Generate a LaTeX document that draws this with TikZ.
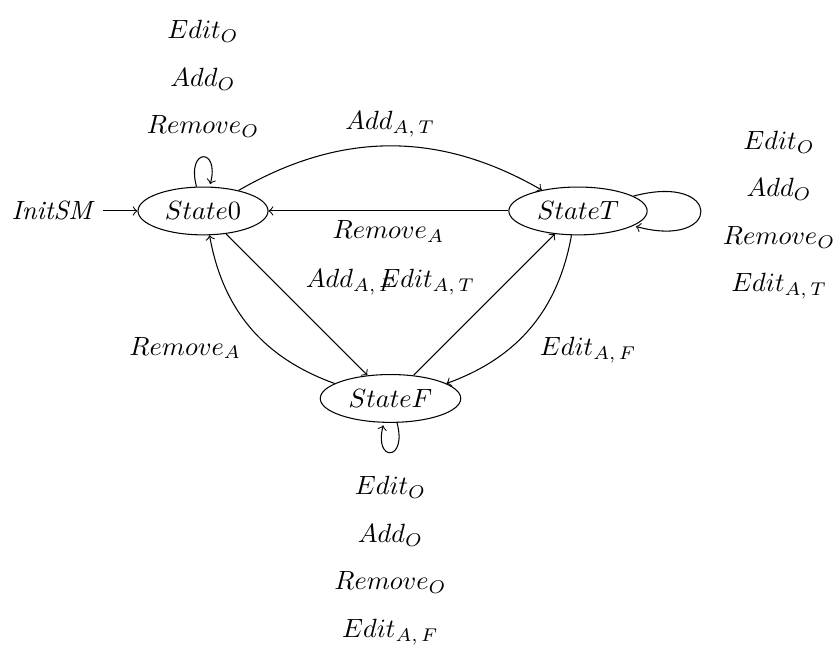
\documentclass[tikz,border=0pt]{standalone}
\usetikzlibrary{positioning,shapes.geometric}
\renewcommand{\arraystretch}{1.5}
\begin{document}
\begin{tikzpicture}[
  statenode/.style={ellipse, draw, inner sep=3pt},
  every edge/.append style={->},
]
\useasboundingbox (-2.707,-6.04) rectangle (8.467,2.813);

% states
\node[statenode] (s0) at (0,0)      {$State0$};
\node[statenode] (sT) at (5,0)      {$StateT$};
\node[statenode] (sF) at (2.5,-2.5) {$StateF$};

% initial arrow
\node[left=13pt of s0, inner sep=3pt] (init) {\textit{InitSM}};
\draw[->] (init) -- (s0);

% transitions
\path[auto]
  (s0) edge[bend left] node {$Add_{A,\,T}$} (sT)
       edge node {$Add_{A,\,F}$} (sF)
       edge[loop above] node[above]
         {$\begin{array}{c} Edit_O\\ Add_O\\ Remove_O \end{array}$} ()
  (sT) edge node {$Remove_A$} (s0)
       edge[bend left] node {$Edit_{A,\,F}$} (sF)
       edge[loop right] node[right]
         {$\begin{array}{c} Edit_O\\ Add_O\\ Remove_O\\ Edit_{A,\,T} \end{array}$} ()
  (sF) edge node {$Edit_{A,\,T}$} (sT)
       edge[bend left] node {$Remove_A$} (s0)
       edge[out=-75, in=-105, loop] node[below]
         {$\begin{array}{c} Edit_O\\ Add_O\\ Remove_O\\ Edit_{A,\,F} \end{array}$} ();
\end{tikzpicture}
\end{document}
